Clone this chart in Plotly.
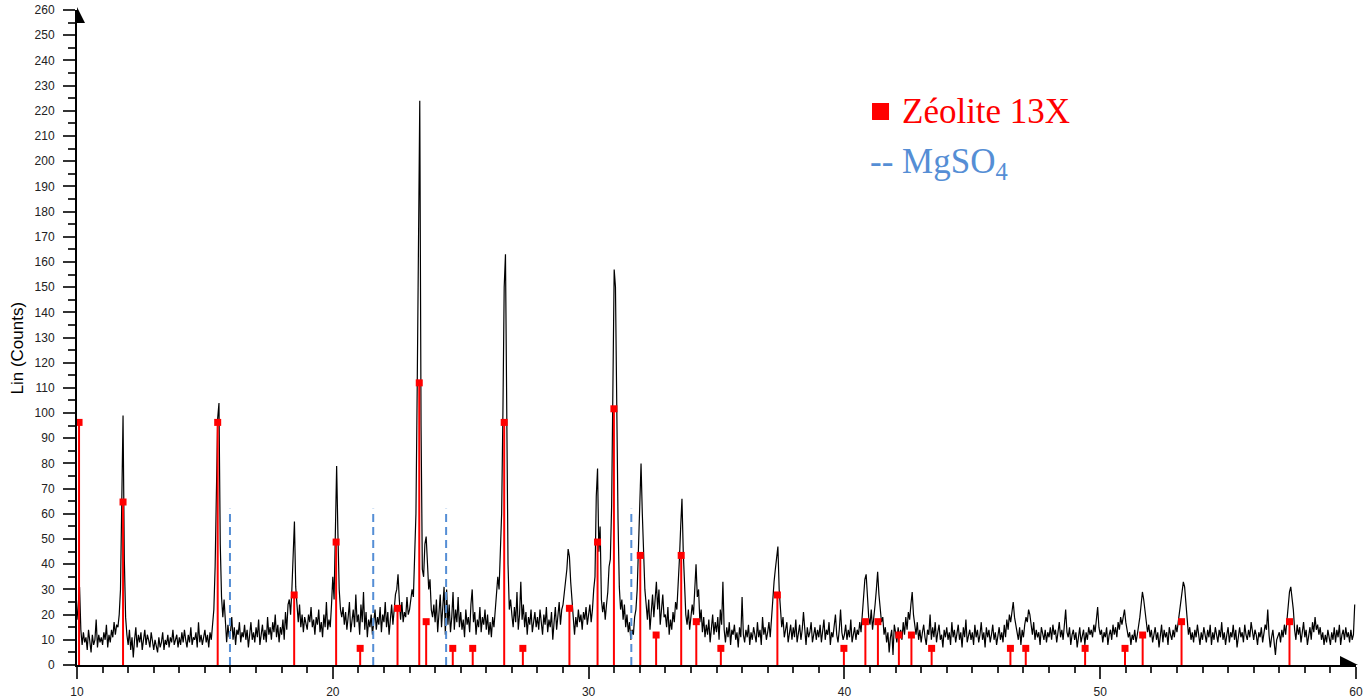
import plotly.graph_objects as go

# ---------------- data ----------------
TWO_THETA_STEP = 0.05  # acquisition step of the diffractogram (deg 2theta)

# Lin (Counts) of the measured pattern, one row per degree, 20 readings per row
COUNTS_10_20 = [
    [18, 24, 31, 14, 8, 13, 9, 11, 6, 14, 9, 5, 12, 8, 10, 18, 7, 12, 9, 11],
    [8, 13, 10, 16, 7, 12, 9, 14, 11, 17, 12, 16, 15, 20, 30, 62, 99, 42, 19, 12],
    [8, 14, 6, 11, 3, 10, 15, 7, 12, 9, 13, 6, 11, 14, 8, 12, 10, 7, 13, 9],
    [6, 10, 8, 5, 11, 7, 9, 13, 6, 10, 8, 12, 7, 11, 9, 14, 8, 10, 12, 7],
    [11, 8, 13, 9, 14, 10, 7, 12, 9, 15, 8, 11, 10, 13, 7, 17, 9, 12, 8, 11],
    [14, 9, 12, 7, 13, 10, 16, 22, 39, 75, 98, 104, 48, 27, 19, 26, 14, 9, 16, 11],
    [13, 19, 10, 15, 8, 14, 12, 17, 9, 13, 11, 16, 10, 14, 7, 12, 17, 10, 13, 9],
    [15, 11, 18, 8, 13, 16, 10, 14, 9, 19, 12, 15, 10, 17, 13, 20, 11, 16, 9, 15],
    [12, 18, 10, 21, 14, 24, 26, 20, 30, 46, 57, 31, 22, 17, 24, 15, 20, 13, 19, 16],
    [14, 20, 17, 23, 15, 18, 12, 19, 16, 22, 13, 17, 11, 20, 15, 25, 14, 18, 15, 24],
]
COUNTS_20_30 = [
    [35, 26, 55, 79, 52, 30, 22, 19, 23, 16, 21, 14, 19, 25, 13, 18, 22, 15, 28, 17],
    [20, 12, 24, 17, 29, 14, 21, 11, 18, 15, 20, 12, 17, 22, 14, 19, 16, 23, 13, 20],
    [17, 25, 15, 21, 12, 19, 24, 16, 22, 28, 30, 36, 26, 18, 25, 17, 21, 19, 27, 20],
    [22, 26, 30, 27, 45, 60, 110, 190, 224, 95, 38, 35, 48, 51, 38, 30, 34, 22, 19, 24],
    [17, 26, 13, 21, 28, 15, 22, 31, 12, 30, 16, 24, 13, 19, 29, 14, 22, 17, 27, 15],
    [21, 14, 18, 11, 22, 16, 19, 13, 24, 30, 17, 21, 12, 18, 15, 23, 13, 19, 16, 22],
    [14, 20, 12, 17, 11, 19, 15, 22, 26, 35, 30, 42, 60, 100, 150, 163, 100, 40, 22, 26],
    [20, 15, 23, 17, 29, 14, 20, 33, 18, 24, 15, 21, 12, 19, 16, 22, 13, 18, 21, 15],
    [19, 14, 22, 17, 12, 20, 16, 23, 13, 18, 15, 21, 10, 17, 23, 14, 19, 25, 16, 22],
    [24, 28, 32, 38, 46, 43, 33, 26, 21, 12, 19, 15, 22, 17, 20, 14, 21, 18, 23, 16],
]
COUNTS_30_40 = [
    [20, 24, 17, 22, 30, 35, 67, 78, 45, 55, 26, 21, 25, 18, 24, 29, 39, 42, 63, 110],
    [157, 150, 90, 58, 31, 22, 26, 18, 24, 15, 20, 13, 17, 10, 14, 12, 19, 22, 30, 45],
    [66, 80, 60, 43, 30, 24, 18, 26, 14, 21, 28, 19, 25, 33, 22, 30, 16, 24, 28, 19],
    [20, 15, 23, 12, 18, 14, 21, 17, 25, 22, 30, 42, 55, 66, 45, 28, 20, 16, 22, 14],
    [18, 24, 20, 29, 40, 27, 30, 17, 22, 13, 19, 11, 16, 12, 18, 9, 15, 20, 12, 17],
    [13, 19, 10, 22, 16, 33, 14, 9, 15, 11, 17, 8, 14, 12, 16, 10, 13, 7, 15, 11],
    [27, 12, 9, 14, 11, 16, 8, 13, 10, 15, 12, 9, 17, 11, 14, 8, 19, 12, 15, 10],
    [13, 17, 11, 20, 26, 33, 38, 42, 47, 30, 22, 15, 19, 11, 14, 17, 9, 13, 16, 10],
    [15, 11, 18, 9, 13, 16, 10, 14, 21, 12, 8, 15, 11, 13, 17, 9, 12, 15, 10, 14],
    [11, 16, 9, 13, 18, 10, 14, 12, 17, 8, 13, 11, 15, 20, 12, 9, 14, 22, 13, 10],
]
COUNTS_40_50 = [
    [12, 16, 10, 14, 11, 18, 9, 13, 15, 10, 14, 12, 17, 13, 19, 27, 34, 36, 25, 19],
    [16, 22, 14, 18, 24, 30, 37, 28, 22, 17, 19, 12, 15, 9, 13, 5, 11, 14, 4, 16],
    [13, 9, 15, 11, 14, 10, 17, 12, 19, 14, 21, 18, 24, 29, 20, 15, 12, 17, 10, 14],
    [9, 13, 16, 11, 8, 14, 12, 20, 10, 15, 11, 17, 9, 13, 16, 10, 12, 7, 14, 11],
    [15, 10, 13, 8, 17, 11, 14, 9, 12, 16, 10, 13, 7, 15, 11, 18, 9, 12, 14, 10],
    [13, 8, 16, 11, 14, 9, 12, 17, 10, 13, 7, 15, 11, 14, 9, 12, 16, 10, 13, 8],
    [12, 15, 10, 13, 9, 16, 11, 18, 14, 20, 17, 22, 25, 19, 16, 12, 10, 15, 8, 14],
    [11, 16, 19, 17, 22, 20, 15, 12, 17, 10, 14, 11, 13, 8, 15, 12, 10, 14, 9, 13],
    [11, 15, 10, 16, 12, 14, 9, 13, 17, 11, 14, 10, 16, 22, 13, 11, 15, 8, 12, 14],
    [10, 13, 7, 12, 15, 9, 11, 14, 8, 13, 10, 15, 12, 14, 11, 16, 13, 17, 23, 15],
]
COUNTS_50_60 = [
    [12, 14, 9, 13, 11, 15, 8, 12, 14, 10, 16, 12, 15, 11, 17, 14, 19, 16, 20, 22],
    [17, 14, 11, 13, 8, 12, 10, 14, 9, 12, 15, 19, 24, 29, 26, 22, 17, 13, 16, 11],
    [14, 9, 12, 15, 10, 13, 7, 12, 16, 9, 14, 11, 13, 8, 15, 12, 10, 14, 11, 16],
    [13, 17, 21, 24, 28, 33, 31, 24, 16, 12, 15, 10, 13, 9, 14, 11, 16, 12, 8, 13],
    [10, 15, 12, 9, 14, 11, 16, 8, 13, 10, 15, 12, 9, 14, 11, 17, 10, 13, 8, 12],
    [15, 9, 13, 11, 16, 10, 14, 7, 12, 15, 11, 13, 9, 16, 12, 10, 14, 11, 17, 13],
    [10, 14, 12, 8, 13, 11, 15, 9, 12, 16, 14, 22, 12, 7, 11, 14, 9, 4, 10, 12],
    [13, 9, 14, 11, 16, 12, 19, 24, 29, 31, 27, 22, 14, 10, 16, 12, 15, 9, 13, 17],
    [11, 14, 8, 12, 15, 10, 17, 13, 19, 14, 16, 12, 15, 10, 13, 8, 12, 9, 14, 11],
    [8, 13, 10, 15, 9, 14, 11, 16, 8, 12, 14, 10, 15, 11, 13, 9, 14, 10, 12, 24],
]
DECADE_STARTS = [10, 20, 30, 40, 50]

# Zeolite 13X reference lines (2theta, height in counts)
ZEO_POS = [10.08, 11.80, 15.50, 18.49, 20.13, 21.07, 22.53, 23.38, 23.65, 24.69,
           25.47, 26.70, 27.43, 29.25, 30.35, 30.99, 32.02, 32.64, 33.62, 34.21,
           35.17, 37.38, 39.98, 40.82, 41.31, 42.13, 42.62, 43.41, 46.49, 47.09,
           49.41, 50.97, 51.66, 53.18, 57.40]
ZEO_H = [96.3, 64.7, 96.3, 27.8, 48.8, 6.6, 22.5, 112.0, 17.2, 6.6,
         6.6, 96.3, 6.6, 22.5, 48.8, 101.7, 43.5, 11.9, 43.5, 17.2,
         6.6, 27.8, 6.6, 17.2, 17.2, 11.9, 11.9, 6.6, 6.6, 6.6,
         6.6, 6.6, 11.9, 17.2, 17.2]

# MgSO4 reference lines
MGSO4_POS = [15.98, 21.58, 24.43, 31.67]
MGSO4_H = 62

X_RANGE = [10, 60]
Y_RANGE = [0, 260]
LEGEND_ZEO = "Zéolite 13X"
LEGEND_MGSO4 = "-- MgSO<sub>4</sub>"
Y_TITLE = "Lin (Counts)"

RED = "#FF0000"
BLUE = "#558ED5"

# ---------------- build traces ----------------
x_trace, y_trace = [], []
for start, rows in zip(DECADE_STARTS, [COUNTS_10_20, COUNTS_20_30, COUNTS_30_40,
                                       COUNTS_40_50, COUNTS_50_60]):
    for r, row in enumerate(rows):
        for j, v in enumerate(row):
            x_trace.append(round(start + r + TWO_THETA_STEP * j, 3))
            y_trace.append(v)

sx, sy = [], []
for p, h in zip(ZEO_POS, ZEO_H):
    sx += [p, p, None]
    sy += [0, h, None]

bx, by = [], []
for p in MGSO4_POS:
    bx += [p, p, None]
    by += [0, MGSO4_H, None]

fig = go.Figure()
fig.add_trace(go.Scatter(x=x_trace, y=y_trace, mode="lines",
                         line=dict(color="black", width=1.2), hoverinfo="skip"))
fig.add_trace(go.Scatter(x=sx, y=sy, mode="lines",
                         line=dict(color=RED, width=2), hoverinfo="skip"))
fig.add_trace(go.Scatter(x=ZEO_POS, y=ZEO_H, mode="markers",
                         marker=dict(symbol="square", size=7, color=RED),
                         cliponaxis=False))
fig.add_trace(go.Scatter(x=bx, y=by, mode="lines",
                         line=dict(color=BLUE, width=2, dash="8px,5px"),
                         hoverinfo="skip"))

axis_common = dict(showgrid=False, zeroline=False, showline=True,
                   linecolor="black", linewidth=2, ticks="outside",
                   ticklen=12, tickwidth=1.5, tickcolor="#333",
                   tickfont=dict(size=12, color="#222",
                                 family="Liberation Sans, Arial"),
                   automargin=False)

fig.update_xaxes(range=X_RANGE, tick0=10, dtick=10, ticklabelstandoff=3,
                 minor=dict(dtick=1, ticks="outside", ticklen=6,
                            tickwidth=1.5, tickcolor="#333"),
                 **axis_common)
fig.update_yaxes(range=Y_RANGE, tick0=0, dtick=10, ticklabelstandoff=6,
                 minor=dict(dtick=5, ticks="outside", ticklen=7,
                            tickwidth=1.5, tickcolor="#333"),
                 **axis_common)

fig.update_layout(
    template="none",
    width=1369, height=698,
    margin=dict(l=77, r=13, t=10, b=33),
    paper_bgcolor="white", plot_bgcolor="white",
    showlegend=False,
    font=dict(family="Liberation Sans, Arial", color="#222"),
)

# axis arrow heads
fig.add_shape(type="path", xref="paper", yref="paper",
              xsizemode="pixel", ysizemode="pixel", xanchor=0, yanchor=1,
              path="M0,3 L0,-13 L8,-13 Z", fillcolor="black",
              line=dict(width=0), layer="above")
fig.add_shape(type="path", xref="paper", yref="paper",
              xsizemode="pixel", ysizemode="pixel", xanchor=1, yanchor=0,
              path="M-16,0 L2,0 L-16,9 Z", fillcolor="black",
              line=dict(width=0), layer="above")

# y-axis title
fig.add_annotation(text=Y_TITLE, textangle=-90, xref="paper", yref="paper",
                   x=0, y=0.5, xshift=-60, yshift=-11, showarrow=False,
                   xanchor="center", yanchor="middle",
                   font=dict(size=17, color="black",
                             family="Liberation Sans, Arial"))

# legend (drawn as text, like the reference)
fig.add_shape(type="rect", xref="paper", yref="paper",
              x0=0.6216, x1=0.6349, y0=0.8321, y1=0.8580,
              fillcolor=RED, line=dict(width=0))
fig.add_annotation(text=LEGEND_ZEO, xref="paper", yref="paper",
                   x=0.6435, y=0.8458, xanchor="left", yanchor="middle",
                   showarrow=False,
                   font=dict(size=35, color=RED,
                             family="Liberation Serif, Times New Roman"))
fig.add_annotation(text=LEGEND_MGSO4, xref="paper", yref="paper",
                   x=0.6185, y=0.7664, xanchor="left", yanchor="middle",
                   showarrow=False,
                   font=dict(size=35, color=BLUE,
                             family="Liberation Serif, Times New Roman"))

fig.write_html("out.html",
               config={"displayModeBar": False},
               post_script="document.body.style.margin='0';"
                           "document.body.style.overflow='hidden';")
